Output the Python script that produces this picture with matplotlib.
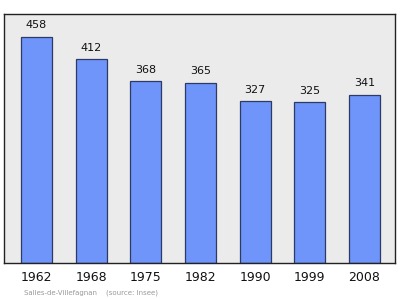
import matplotlib.pyplot as plt
import numpy as np

# Population data
years = ['1962', '1968', '1975', '1982', '1990', '1999', '2008']
population = [458, 412, 368, 365, 327, 325, 341]

fig = plt.figure(figsize=(4, 2.99), dpi=100)
ax = fig.add_axes([4 / 400, 1 - 263 / 299, 391 / 400, 249 / 299])
ax.set_facecolor('#ebebeb')

x = np.arange(len(years))
ax.bar(x, population, width=0.567, color='#6f94fa', edgecolor='#2b3a66', linewidth=0.9, zorder=2)

# Value labels above bars
for xi, v in zip(x, population):
    ax.annotate(str(v), (xi, v), xytext=(0, 4.5), textcoords='offset points',
                ha='center', va='bottom', fontsize=8, color='#111111')

ax.set_xlim(-0.594, 6.558)
ax.set_ylim(0, 504)
ax.set_yticks([])
ax.set_xticks(x)
ax.set_xticklabels(years, fontsize=9, color='#111111')
ax.tick_params(axis='x', length=0, pad=6)

for s in ax.spines.values():
    s.set_color('#222222')
    s.set_linewidth(1.0)

fig.text(24 / 400, 1 - 293 / 299, 'Salles-de-Villefagnan    (source: Insee)',
         fontsize=5, color='#999999', va='center', ha='left')

plt.savefig('out.png', dpi=100)
